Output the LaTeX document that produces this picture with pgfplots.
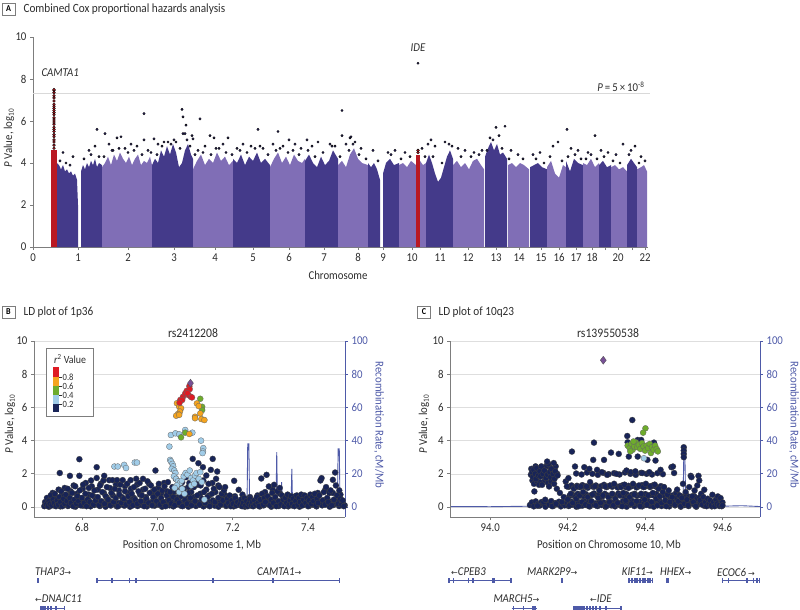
\documentclass[border=0pt]{standalone}
\usepackage{fontspec}
\setmainfont{Carlito}[FakeStretch=0.9]
\newfontfamily\symfont{DejaVu Sans}
\usepackage{pgfplots}
\pgfplotsset{compat=1.18}
\definecolor{mdark}{RGB}{68,58,138}
\definecolor{mlight}{RGB}{128,110,182}
\definecolor{mred}{RGB}{185,25,35}
\definecolor{mdot}{RGB}{48,42,105}
\definecolor{axgray}{RGB}{125,125,125}
\definecolor{gridgray}{RGB}{222,222,222}
\definecolor{recblue}{RGB}{78,90,168}
\definecolor{ldnavy}{RGB}{24,36,88}
\definecolor{ldlblue}{RGB}{160,204,232}
\definecolor{ldgreen}{RGB}{110,172,44}
\definecolor{ldorange}{RGB}{245,164,30}
\definecolor{ldred}{RGB}{222,28,36}
\definecolor{ldpurple}{RGB}{120,80,150}
\definecolor{txt}{RGB}{45,45,45}
\newcommand\fs[1]{\fontsize{#1}{#1}\selectfont}
\pgfplotsset{
  base/.style={scale only axis, tick align=outside, major tick length=3pt,
    axis line style={axgray, line width=0.8pt}, tick style={axgray, line width=0.8pt},
    ticklabel style={font=\fs{12}, text=txt},
    /pgf/number format/assume math mode=true},
  band/.style={draw=none, forget plot},
  nv/.style={only marks, mark=*, mark size=3pt, mark options={fill=ldnavy, draw=black!75, line width=0.3pt}},
  lb/.style={only marks, mark=*, mark size=3pt, mark options={fill=ldlblue, draw=black!60, line width=0.3pt}},
  gr/.style={only marks, mark=*, mark size=3pt, mark options={fill=ldgreen, draw=black!60, line width=0.3pt}},
  og/.style={only marks, mark=*, mark size=3pt, mark options={fill=ldorange, draw=black!60, line width=0.3pt}},
  rd/.style={only marks, mark=*, mark size=3pt, mark options={fill=ldred, draw=black!60, line width=0.3pt}},
  pp/.style={only marks, mark=diamond*, mark size=4pt, mark options={fill=ldpurple, draw=black!70, line width=0.3pt}},
}
\newcommand\exon[2]{\fill[recblue] (#1pt-0.8pt,-#2pt-2.5pt) rectangle (#1pt+0.8pt,-#2pt+2.5pt);}
\begin{document}
\begin{tikzpicture}
\useasboundingbox (0,0) rectangle (800pt,-610pt);
% ================= Panel A =================
\begin{axis}[base, at={(33pt,-247pt)}, anchor=south west, width=615pt, height=210pt,
  xmin=0, xmax=615, ymin=0, ymax=10,
  axis x line*=bottom, axis y line*=left,
  xtick={0,45,95,141,182,220,256,291,325,350,379,407,435,463,486,508,526,543,559,572,585,599,612},
  xticklabels={0,1,2,3,4,5,6,7,8,9,10,11,12,13,14,15,16,17,18,,20,,22},
  ytick={0,2,...,10}, clip=false]
\addplot[gray!30, line width=1.3pt, forget plot] coordinates {(0,7.3)(617,7.3)};
% chromosome bands
\addplot[band, fill=mdark] coordinates {(24,4.0)(26,3.9)(28,3.7)(30,3.9)(32,3.6)(34,3.7)(36,3.5)(38,3.6)(40,3.4)(42,3.5)(44,3.2)(45,2.0)} \closedcycle;
\addplot[band, fill=mdark] coordinates {(48,3.6)(50,3.9)(52,3.7)(54,4.0)(56,3.8)(58,4.1)(60,3.9)(62,4.2)(64,3.8)(66,4.0)(69,3.9)} \closedcycle;
\addplot[band, fill=mlight] coordinates {(69,3.8)(72,4.0)(75,4.3)(78,3.9)(81,4.4)(84,4.1)(87,4.5)(90,4.2)(93,4.0)(96,4.3)(99,3.9)(102,4.2)(105,4.4)(108,3.9)(111,4.1)(114,4.0)(117,4.3)(119,3.9)} \closedcycle;
\addplot[band, fill=mdark] coordinates {(119,3.9)(122,4.2)(125,4.0)(128,4.6)(131,4.3)(134,4.8)(137,4.4)(140,4.9)(143,4.5)(146,3.8)(149,4.0)(152,4.6)(155,4.9)(158,4.4)(160,4.2)} \closedcycle;
\addplot[band, fill=mlight] coordinates {(160,3.7)(164,4.1)(168,4.4)(172,3.9)(176,4.2)(180,4.0)(184,4.5)(188,4.1)(192,4.3)(196,3.9)(200,4.1)} \closedcycle;
\addplot[band, fill=mdark] coordinates {(200,4.2)(204,4.0)(208,4.4)(212,3.9)(216,4.3)(220,4.1)(224,4.5)(228,4.0)(232,4.2)(237,3.9)} \closedcycle;
\addplot[band, fill=mlight] coordinates {(237,3.8)(241,4.2)(245,4.5)(249,4.0)(253,4.3)(257,3.9)(261,4.4)(265,4.1)(269,4.0)(272,4.2)} \closedcycle;
\addplot[band, fill=mdark] coordinates {(272,4.1)(276,4.4)(280,4.0)(284,3.8)(288,4.3)(292,3.9)(296,4.1)(300,4.6)(305,4.2)} \closedcycle;
\addplot[band, fill=mlight] coordinates {(305,3.9)(309,4.1)(313,3.8)(317,4.4)(321,4.7)(325,4.2)(329,4.0)(335,3.9)} \closedcycle;
\addplot[band, fill=mdark] coordinates {(335,4.0)(338,3.8)(341,4.0)(344,3.7)(347,3.2)} \closedcycle;
\addplot[band, fill=mdark] coordinates {(350,3.5)(353,4.0)(357,4.2)(361,3.9)(366,4.0)} \closedcycle;
\addplot[band, fill=mlight] coordinates {(366,3.9)(370,4.0)(374,3.8)(378,4.1)(383,3.9)} \closedcycle;
\addplot[band, fill=mlight] coordinates {(387,4.1)(390,3.9)(393,4.0)} \closedcycle;
\addplot[band, fill=mdark] coordinates {(393,4.0)(396,4.4)(399,4.0)(402,3.5)(405,3.1)(408,3.3)(411,3.8)(414,4.3)(417,4.6)(420,4.2)} \closedcycle;
\addplot[band, fill=mlight] coordinates {(420,3.9)(424,4.1)(428,3.8)(432,4.0)(436,3.7)(440,4.1)(444,4.2)(448,3.9)(451,3.7)} \closedcycle;
\addplot[band, fill=mdark] coordinates {(452,4.3)(455,4.7)(458,5.0)(461,4.6)(464,4.9)(467,4.4)(470,4.5)(474,4.2)} \closedcycle;
\addplot[band, fill=mlight] coordinates {(475,3.9)(479,4.0)(483,3.8)(487,4.0)(491,3.9)(496,3.7)} \closedcycle;
\addplot[band, fill=mdark] coordinates {(497,3.8)(501,3.9)(505,4.0)(509,3.8)(514,3.7)} \closedcycle;
\addplot[band, fill=mlight] coordinates {(514,3.8)(518,4.1)(522,3.5)(526,3.3)(530,3.9)(533,3.8)} \closedcycle;
\addplot[band, fill=mdark] coordinates {(533,4.1)(537,3.6)(541,4.2)(545,4.0)(550,3.9)} \closedcycle;
\addplot[band, fill=mlight] coordinates {(550,4.0)(554,3.9)(558,4.2)(562,3.8)(566,4.0)} \closedcycle;
\addplot[band, fill=mdark] coordinates {(566,3.9)(570,4.1)(574,3.8)(578,3.9)} \closedcycle;
\addplot[band, fill=mlight] coordinates {(578,3.8)(582,3.9)(586,3.7)(590,3.8)(594,3.6)} \closedcycle;
\addplot[band, fill=mdark] coordinates {(594,3.9)(598,4.2)(601,4.0)(604,3.8)} \closedcycle;
\addplot[band, fill=mlight] coordinates {(604,3.7)(608,3.8)(611,3.9)(614,3.6)} \closedcycle;
% hit regions
\addplot[band, fill=mred] coordinates {(18,4.6)(24,4.6)} \closedcycle;
\addplot[band, fill=mred] coordinates {(383,4.4)(387,4.4)} \closedcycle;
% scattered top SNPs
\addplot[only marks, mark=*, mark size=1.2pt, mark options={fill=mdot, draw=none}] coordinates {
(64,5.6)(72,5.4)(84,5.2)(88,5.25)(111,6.35)(111,5.1)(121,5.15)(149,6.55)(150,6.2)(153,5.8)(150,5.4)(152,5.4)(159,5.3)(160,5.15)(167,6.1)(177,5.3)(181,5.2)(195,5.2)(225,5.6)(245,5.5)(256,5.1)(274,5.1)(309,6.5)(309,5.3)(317,5.2)(318,5.25)(463,5.7)(472,5.75)(534,5.6)(562,5.3)
(30,4.5)(40,4.3)(56,4.6)(62,4.8)(76,4.9)(80,4.6)(92,4.7)(98,4.9)(104,4.8)(115,4.6)(125,4.9)(131,5.0)(138,4.9)(143,5.0)(147,4.7)(157,4.8)(165,4.6)(172,4.8)(186,4.7)(190,4.9)(204,4.7)(210,4.9)(218,4.8)(230,4.7)(240,4.9)(250,4.8)(262,4.9)(268,4.7)(279,4.8)(285,5.0)(297,4.9)(302,4.8)(313,4.9)(322,5.0)(328,4.7)(340,4.6)(355,4.5)(362,4.6)(372,4.5)(389,4.7)(395,4.9)(398,5.1)(402,4.8)(412,5.0)(416,4.9)(425,4.7)(432,4.6)(441,4.5)(449,4.6)(457,5.2)(466,5.3)(478,4.6)(485,4.4)(500,4.4)(507,4.5)(520,4.8)(525,5.0)(538,4.7)(545,4.6)(555,4.5)(568,4.6)(575,4.5)(583,4.4)(590,4.9)(598,4.6)(602,4.8)(608,4.3)
(27,4.1)(33,4.0)(37,3.9)(51,4.2)(58,4.4)(66,4.3)(71,4.3)(79,4.6)(86,4.7)(95,4.5)(101,4.6)(109,4.4)(118,4.5)(124,4.4)(129,4.8)(135,5.0)(141,5.1)(154,5.1)(162,4.4)(170,4.5)(178,4.4)(183,4.7)(193,4.5)(199,4.4)(207,4.6)(214,4.5)(222,4.7)(227,4.8)(235,4.4)(243,4.6)(247,4.7)(255,4.5)(260,4.6)(266,4.4)(275,4.6)(282,4.3)(290,4.5)(299,4.8)(307,4.3)(316,4.6)(320,4.9)(326,4.4)(333,4.2)(345,4.1)(358,4.4)(368,4.2)(377,4.3)(392,4.3)(400,4.3)(409,4.0)(419,4.8)(428,4.3)(438,4.3)(446,4.4)(454,4.6)(460,5.1)(469,4.7)(476,4.2)(490,4.2)(503,4.2)(511,4.0)(517,4.3)(529,4.1)(535,4.3)(542,4.4)(548,4.2)(553,4.2)(558,4.4)(564,4.2)(571,4.3)(580,4.1)(587,4.0)(596,4.4)(606,4.0)(612,4.1)
(385,8.75)};
\addplot[only marks, mark=*, mark size=1.4pt, mark options={fill=mred, draw=none}] coordinates {
(21,4.7)(21,4.85)(21,5.0)(21,5.1)(21,5.25)(21,5.35)(21,5.5)(21,5.6)(21,5.7)(21,5.85)(21,5.95)(21,6.05)(21,6.15)(21,6.3)(21,6.4)(21,6.5)(21,6.6)(21,6.7)(21,6.8)(21,6.95)(21,7.1)(21,7.2)(21,7.35)(21,7.45)(21,7.5)(385,4.5)(385,4.6)};
\end{axis}
\node[draw=axgray, line width=0.6pt, minimum width=13pt, minimum height=12pt, inner sep=0pt, font=\fs{9}\bfseries] at (8.5pt,-9pt) {A};
\node[anchor=west, font=\fs{12.5}, text=txt] at (20pt,-9pt) {Combined Cox proportional hazards analysis};
\node[rotate=90, font=\fs{12}, text=txt] at (9pt,-138pt) {\textit{P} Value, log\textsubscript{10}};
\node[font=\fs{12}, text=txt] at (338pt,-275pt) {Chromosome};
\node[anchor=west, font=\fs{12}\itshape, text=txt] at (38pt,-73pt) {CAMTA1};
\node[font=\fs{12}\itshape, text=txt] at (418pt,-48pt) {IDE};
\node[anchor=east, font=\fs{12}, text=txt] at (648pt,-87pt) {\textit{P}\,=\,5\,×\,10\textsuperscript{-8}};
% ================= Panel B =================
\begin{axis}[base, at={(34pt,-517pt)}, anchor=south west, width=311pt, height=176pt,
  xmin=6.6726, xmax=7.4982, ymin=-6, ymax=100,
  axis x line=none, axis y line*=right,
  axis line style={recblue, line width=0.8pt}, tick style={recblue, line width=0.8pt},
  ticklabel style={font=\fs{12}, text=recblue},
  ytick={0,20,...,100}, ymajorgrids, grid style={gridgray, line width=0.6pt}]
\addplot[recblue, line width=0.9pt] coordinates {(6.70,0.5)(6.75,0.8)(6.80,0.4)(6.85,1.0)(6.90,0.6)(6.95,0.8)(7.00,0.5)(7.05,1.2)(7.10,0.8)(7.15,0.6)(7.20,0.9)(7.238,0.8)(7.240,38)(7.243,38)(7.245,1.0)(7.30,1.5)(7.315,1.2)(7.317,33)(7.319,1.2)(7.328,1.0)(7.330,15)(7.332,1.0)(7.355,1.2)(7.357,23)(7.359,1.2)(7.40,2)(7.45,3)(7.478,2)(7.480,35)(7.483,35)(7.485,2)(7.495,1)};
\end{axis}
\begin{axis}[base, at={(34pt,-517pt)}, anchor=south west, width=311pt, height=176pt,
  xmin=6.6726, xmax=7.4982, ymin=-0.6, ymax=10,
  axis x line*=bottom, axis y line*=left,
  xtick={6.8,7.0,7.2,7.4}, xticklabels={6.8,7.0,7.2,7.4}, ytick={0,2,...,10}]
\addplot[nv] coordinates {
(6.7025,0.12)(6.7075,0.28)(6.7125,0.02)(6.7175,0.38)(6.7225,0.18)(6.7275,0.08)(6.7325,0.32)(6.7375,0.22)(6.7425,0.04)(6.7475,0.30)(6.7525,0.14)(6.7575,0.40)(6.7625,0.06)(6.7675,0.26)(6.7725,0.16)(6.7775,0.36)(6.7825,0.02)(6.7875,0.24)(6.7925,0.12)(6.7975,0.34)(6.8025,0.08)(6.8075,0.30)(6.8125,0.18)(6.8175,0.40)(6.8225,0.04)(6.8275,0.22)(6.8325,0.12)(6.8375,0.36)(6.8425,0.26)(6.8475,0.06)(6.8525,0.32)(6.8575,0.16)(6.8625,0.02)(6.8675,0.28)(6.8725,0.38)(6.8775,0.10)(6.8825,0.20)(6.8875,0.34)(6.8925,0.04)(6.8975,0.24)(6.9025,0.14)(6.9075,0.36)(6.9125,0.08)(6.9175,0.30)(6.9225,0.20)(6.9275,0.02)(6.9325,0.40)(6.9375,0.16)(6.9425,0.26)(6.9475,0.06)(6.9525,0.32)(6.9575,0.12)(6.9625,0.22)(6.9675,0.38)(6.9725,0.04)(6.9775,0.28)(6.9825,0.18)(6.9875,0.34)(6.9925,0.08)(6.9975,0.24)
(7.0025,0.14)(7.0075,0.36)(7.0125,0.02)(7.0175,0.28)(7.0225,0.20)(7.0275,0.40)(7.0325,0.10)(7.0375,0.30)(7.0425,0.04)(7.0475,0.22)(7.0525,0.16)(7.0575,0.34)(7.0625,0.08)(7.0675,0.26)(7.0725,0.12)(7.0775,0.38)(7.0825,0.02)(7.0875,0.24)(7.0925,0.18)(7.0975,0.32)(7.1025,0.06)(7.1075,0.28)(7.1125,0.14)(7.1175,0.36)(7.1225,0.04)(7.1275,0.22)(7.1325,0.12)(7.1375,0.30)(7.1425,0.18)(7.1475,0.40)(7.1525,0.08)(7.1575,0.26)(7.1625,0.02)(7.1675,0.34)(7.1725,0.16)(7.1775,0.24)(7.1825,0.06)(7.1875,0.30)(7.1925,0.12)(7.1975,0.20)
(7.2025,0.04)(7.2075,0.26)(7.2125,0.14)(7.2175,0.32)(7.2225,0.08)(7.2275,0.20)(7.2325,0.02)(7.2375,0.28)(7.2425,0.12)(7.2475,0.34)(7.2525,0.06)(7.2575,0.22)(7.2625,0.16)(7.2675,0.36)(7.2725,0.04)(7.2775,0.30)(7.2825,0.10)(7.2875,0.40)(7.2925,0.18)(7.2975,0.26)(7.3025,0.02)(7.3075,0.34)(7.3125,0.14)(7.3175,0.22)(7.3225,0.06)(7.3275,0.30)(7.3325,0.12)(7.3375,0.38)(7.3425,0.20)(7.3475,0.04)(7.3525,0.28)(7.3575,0.10)(7.3625,0.34)(7.3675,0.16)(7.3725,0.24)(7.3775,0.02)(7.3825,0.32)(7.3875,0.12)(7.3925,0.40)(7.3975,0.18)
(7.4025,0.06)(7.4075,0.28)(7.4125,0.14)(7.4175,0.36)(7.4225,0.04)(7.4275,0.22)(7.4325,0.30)(7.4375,0.10)(7.4425,0.40)(7.4475,0.16)(7.4525,0.26)(7.4575,0.02)(7.4625,0.34)(7.4675,0.12)(7.4725,0.24)(7.4775,0.38)(7.4825,0.06)(7.4875,0.30)(7.4925,0.18)(7.4975,0.10)
(6.722,0.85)(6.730,0.60)(6.738,1.05)(6.746,0.70)(6.754,1.15)(6.762,0.65)(6.770,0.95)(6.778,1.30)(6.786,0.80)(6.794,0.55)(6.802,1.10)(6.810,1.45)(6.818,0.75)(6.826,1.25)(6.834,0.60)(6.842,1.05)(6.850,1.40)(6.858,0.85)(6.866,0.55)(6.874,1.15)(6.882,0.70)(6.890,1.35)(6.898,1.00)(6.906,0.60)(6.914,1.25)(6.922,0.85)(6.930,1.10)(6.938,0.55)(6.946,1.35)(6.954,0.75)(6.962,1.05)(6.970,0.60)(6.978,1.40)(6.986,0.90)(6.994,0.65)(7.002,1.15)(7.010,0.80)(7.018,1.45)(7.026,0.95)(7.034,0.60)(7.042,0.85)(7.050,0.55)(7.058,0.70)(7.066,1.50)(7.074,0.65)(7.082,1.20)(7.090,0.90)(7.098,0.60)(7.106,1.35)(7.114,0.80)(7.122,1.60)(7.130,1.05)(7.138,0.70)(7.146,1.45)(7.154,0.90)(7.162,1.30)(7.170,0.60)(7.178,0.75)(7.186,0.55)(7.194,0.65)
(7.206,0.65)(7.226,0.75)(7.246,0.60)(7.266,0.70)(7.286,0.90)(7.306,1.05)(7.326,0.80)(7.346,0.55)(7.366,0.65)(7.386,0.60)(7.406,0.55)(7.426,0.85)(7.446,1.05)(7.466,0.85)(7.486,0.75)
(6.700,0.05)(6.702,0.30)(6.705,0.15)(6.707,0.55)(6.710,0.05)(6.712,0.35)(6.715,0.20)(6.717,0.70)(6.720,0.10)(6.723,0.45)(6.726,0.25)(6.728,0.80)(6.731,0.05)(6.734,0.40)(6.737,0.15)(6.740,0.60)(6.743,0.30)(6.745,0.95)(6.748,0.05)(6.751,0.50)(6.754,0.20)(6.757,0.75)(6.760,0.35)(6.762,1.10)(6.765,0.10)(6.768,0.55)(6.771,0.25)(6.774,0.85)(6.777,0.05)(6.780,0.45)(6.782,1.25)(6.785,0.20)(6.788,0.65)(6.791,0.35)(6.794,1.00)(6.797,0.10)(6.800,0.55)(6.803,1.35)(6.806,0.25)(6.809,0.80)(6.812,0.05)(6.815,0.45)(6.818,1.15)(6.821,0.30)(6.824,1.60)(6.827,0.70)(6.830,0.15)(6.833,1.00)(6.836,0.40)(6.839,1.75)(6.842,0.60)(6.845,0.10)(6.848,1.30)(6.851,0.35)(6.854,0.90)(6.857,1.60)(6.860,0.20)(6.863,0.65)(6.866,1.20)(6.869,0.45)(6.872,1.62)(6.875,0.10)(6.878,0.85)(6.881,1.62)(6.884,0.30)(6.887,1.10)(6.890,0.55)(6.893,1.62)(6.896,0.05)(6.899,0.75)(6.902,1.35)(6.905,0.25)(6.908,1.62)(6.911,0.50)(6.914,0.95)(6.917,0.15)(6.920,1.40)(6.923,0.65)(6.926,0.30)(6.929,1.62)(6.932,0.80)(6.935,0.10)(6.938,1.20)(6.941,0.45)(6.944,1.70)(6.947,0.20)(6.950,0.95)(6.953,1.45)(6.956,0.35)(6.959,0.70)(6.962,1.70)(6.965,0.05)(6.968,1.10)(6.971,0.50)(6.974,1.55)(6.977,0.25)(6.980,0.85)(6.983,1.30)(6.986,0.10)(6.989,0.60)(6.992,1.05)(6.995,2.20)(6.998,0.35)
(7.001,0.80)(7.004,1.40)(7.007,0.15)(7.010,0.55)(7.013,1.00)(7.016,0.30)(7.019,1.25)(7.022,0.05)(7.025,0.70)(7.028,1.50)(7.031,0.40)(7.034,0.90)(7.037,0.20)(7.040,1.20)(7.043,0.60)(7.046,0.10)(7.049,1.70)(7.052,0.45)(7.055,0.95)(7.058,0.25)(7.061,1.35)(7.064,0.65)(7.067,0.05)(7.070,1.10)(7.073,0.40)(7.076,1.80)(7.079,0.20)(7.082,0.85)(7.085,1.45)(7.088,0.55)(7.091,0.10)(7.094,2.90)(7.097,1.20)(7.100,0.35)(7.103,1.65)(7.106,0.70)(7.109,2.64)(7.112,0.15)(7.115,1.30)(7.118,0.50)(7.121,2.40)(7.124,0.90)(7.127,0.25)(7.130,1.90)(7.133,0.60)(7.136,1.40)(7.139,0.05)(7.142,2.24)(7.145,0.80)(7.147,2.90)(7.150,1.10)(7.153,0.30)(7.156,1.70)(7.159,2.14)(7.162,0.55)(7.165,1.20)(7.168,0.15)(7.171,0.80)(7.174,0.40)(7.177,1.00)(7.180,1.20)(7.183,0.10)(7.186,0.50)(7.189,0.25)(7.192,0.70)(7.195,0.05)(7.198,0.40)
(7.201,0.20)(7.204,1.58)(7.207,0.55)(7.210,0.10)(7.213,0.30)(7.216,1.04)(7.219,0.15)(7.222,0.45)(7.225,0.05)(7.228,0.25)(7.231,0.55)(7.234,0.10)(7.237,0.35)(7.240,0.05)(7.243,0.20)(7.246,0.50)(7.249,0.10)(7.252,0.30)(7.255,0.05)(7.258,0.40)(7.261,0.15)(7.264,0.60)(7.267,0.25)(7.270,0.05)(7.273,0.45)(7.276,1.72)(7.278,0.80)(7.281,0.15)(7.284,0.55)(7.287,0.30)(7.290,1.94)(7.293,0.65)(7.296,1.24)(7.299,0.10)(7.302,0.45)(7.305,0.85)(7.308,0.25)(7.310,1.34)(7.313,0.60)(7.316,0.05)(7.319,0.95)(7.322,0.35)(7.325,1.15)(7.328,0.15)(7.331,0.70)(7.334,0.45)(7.337,0.05)(7.340,0.55)(7.343,0.25)(7.346,0.75)(7.349,0.10)(7.352,0.40)(7.355,0.65)(7.358,0.20)(7.361,0.50)(7.364,0.05)(7.367,0.35)(7.370,0.70)(7.373,0.15)(7.376,0.55)(7.379,0.30)(7.382,0.75)(7.385,0.10)(7.388,0.45)(7.391,0.70)(7.394,0.25)(7.397,0.55)
(7.400,0.05)(7.403,0.40)(7.406,0.75)(7.409,0.20)(7.412,0.60)(7.415,0.35)(7.418,0.80)(7.421,0.10)(7.424,0.50)(7.427,0.25)(7.430,0.70)(7.433,1.60)(7.436,1.74)(7.439,0.40)(7.442,0.90)(7.445,0.15)(7.448,1.20)(7.451,0.55)(7.454,0.30)(7.457,0.85)(7.460,1.00)(7.463,0.10)(7.466,1.64)(7.469,0.45)(7.472,2.08)(7.474,1.30)(7.477,0.70)(7.480,0.20)(7.483,1.00)(7.486,0.50)(7.489,0.15)(7.492,0.40)(7.495,0.05)
(6.741,2.05)(6.768,1.88)(6.793,2.88)(6.793,1.88)(6.839,2.40)(6.859,1.88)};
\addplot[lb] coordinates {(7.032,3.64)(7.034,2.84)(7.036,4.34)(7.048,4.44)(7.058,4.38)(7.074,4.64)(7.093,4.48)(7.116,4.00)(7.122,3.55)(7.121,3.35)(7.120,3.25)(6.886,2.44)(6.895,2.44)(6.912,2.54)(6.917,2.35)(6.940,2.68)(6.946,2.68)(7.036,2.75)(7.040,2.60)(7.042,2.45)(7.038,2.30)(7.045,2.20)(7.048,2.05)(7.044,1.85)(7.050,1.70)(7.055,1.55)(7.060,1.45)(7.052,1.30)(7.046,1.15)(7.065,1.60)(7.070,1.85)(7.075,2.05)(7.080,1.95)(7.086,2.20)(7.090,1.75)(7.095,1.60)(7.100,1.90)(7.104,2.05)(7.110,1.70)(7.114,2.10)(7.118,1.50)(7.058,0.90)(7.066,1.10)(7.072,0.80)(7.125,0.45)(7.090,1.30)(7.098,1.40)};
\addplot[gr] coordinates {(7.114,6.52)(7.119,6.04)(7.119,5.84)(7.063,4.20)(7.074,4.48)};
\addplot[og] coordinates {(7.052,6.25)(7.058,6.05)(7.063,5.95)(7.060,5.75)(7.055,5.60)(7.050,5.50)(7.058,5.55)(7.105,6.24)(7.110,6.08)(7.100,5.44)(7.114,5.64)(7.117,5.30)(7.125,5.24)(7.100,5.35)(7.085,4.40)};
\addplot[rd] coordinates {(7.061,6.45)(7.068,6.64)(7.074,6.84)(7.078,7.00)(7.083,6.74)(7.089,6.64)(7.085,7.28)(7.086,7.10)(7.066,6.45)(7.059,6.28)(7.080,6.86)(7.092,6.60)};
\addplot[pp] coordinates {(7.088,7.46)};
\end{axis}
\node[draw=axgray, line width=0.6pt, minimum width=13pt, minimum height=12pt, inner sep=0pt, font=\fs{9}\bfseries] at (8.5pt,-312pt) {B};
\node[anchor=west, font=\fs{12.5}, text=txt] at (20pt,-312pt) {LD plot of 1p36};
\node[font=\fs{13}, text=txt] at (193pt,-333pt) {rs2412208};
\node[rotate=90, font=\fs{12}, text=txt] at (10pt,-424pt) {\textit{P} Value, log\textsubscript{10}};
\node[rotate=-90, font=\fs{12}, text=recblue] at (379pt,-425pt) {Recombination Rate, cM/Mb};
\node[font=\fs{12}, text=txt] at (192pt,-545pt) {Position on Chromosome 1, Mb};
% legend
\draw[axgray, line width=0.6pt, fill=white] (46pt,-348pt) rectangle (93pt,-416pt);
\node[font=\fs{11}, text=txt] at (70pt,-359pt) {\textit{r}\textsuperscript{2} Value};
\fill[ldred] (53pt,-367pt) rectangle (59pt,-377pt);
\fill[ldorange] (53pt,-377pt) rectangle (59pt,-386pt);
\fill[ldgreen] (53pt,-386pt) rectangle (59pt,-395pt);
\fill[ldlblue] (53pt,-395pt) rectangle (59pt,-404pt);
\fill[ldnavy] (53pt,-404pt) rectangle (59pt,-412pt);
\foreach \yy/\lab in {377/0.8,386/0.6,395/0.4,404/0.2} {
  \draw[txt, line width=0.5pt] (59pt,-\yy pt) -- (62pt,-\yy pt);
  \node[anchor=west, inner sep=0pt, font=\fs{9.5}, text=txt] at (62.5pt,-\yy pt) {\lab};
}
% genes B
\node[anchor=west, font=\fs{12}\itshape, text=txt, inner sep=0pt] at (35pt,-572pt) {THAP3{\upshape\symfont\fs{8}→}};
\exon{38}{580}
\node[anchor=west, font=\fs{12}\itshape, text=txt, inner sep=0pt] at (257pt,-572pt) {CAMTA1{\upshape\symfont\fs{8}→}};
\draw[recblue, line width=0.7pt] (96.7pt,-580pt) -- (340pt,-580pt);
\exon{97}{580}\exon{111.7}{580}\exon{129.3}{580}\exon{136}{580}\exon{212.7}{580}\exon{272.7}{580}\exon{339.5}{580}
\node[anchor=west, font=\fs{12}\itshape, text=txt, inner sep=0pt] at (35pt,-599pt) {{\upshape\symfont\fs{8}←}DNAJC11};
\draw[recblue, line width=0.7pt] (40pt,-608pt) -- (65pt,-608pt);
\exon{41}{608}\exon{43}{608}\exon{45}{608}\exon{48}{608}\exon{51}{608}\exon{56}{608}\exon{64.5}{608}
% ================= Panel C =================
\begin{axis}[base, at={(450pt,-517pt)}, anchor=south west, width=310pt, height=176pt,
  xmin=93.896, xmax=94.697, ymin=-6, ymax=100,
  axis x line=none, axis y line*=right,
  axis line style={recblue, line width=0.8pt}, tick style={recblue, line width=0.8pt},
  ticklabel style={font=\fs{12}, text=recblue},
  ytick={0,20,...,100}, ymajorgrids, grid style={gridgray, line width=0.6pt}]
\addplot[recblue, line width=0.9pt] coordinates {(93.896,0.3)(94.0,0.2)(94.1,0.5)(94.2,0.8)(94.3,1.0)(94.4,1.2)(94.498,1)(94.500,30)(94.503,30)(94.505,1)(94.55,0.8)(94.60,0.5)(94.65,0.8)(94.697,0.3)};
\end{axis}
\begin{axis}[base, at={(450pt,-517pt)}, anchor=south west, width=310pt, height=176pt,
  xmin=93.896, xmax=94.697, ymin=-0.6, ymax=10,
  axis x line*=bottom, axis y line*=left,
  xtick={94.0,94.2,94.4,94.6}, xticklabels={94.0,94.2,94.4,94.6}, ytick={0,2,...,10}]
\addplot[nv] coordinates {
(94.1025,0.12)(94.1075,0.28)(94.1125,0.04)(94.1175,0.34)(94.1225,0.18)(94.1275,0.08)(94.1325,0.30)(94.1375,0.22)(94.1425,0.02)(94.1475,0.26)(94.1525,0.14)(94.1575,0.36)(94.1625,0.06)(94.1675,0.24)(94.1725,0.16)(94.1775,0.32)(94.1825,0.04)(94.1875,0.20)(94.1925,0.10)(94.1975,0.28)
(94.2025,0.06)(94.2075,0.34)(94.2125,0.14)(94.2175,0.24)(94.2225,0.02)(94.2275,0.30)(94.2325,0.18)(94.2375,0.08)(94.2425,0.36)(94.2475,0.12)(94.2525,0.26)(94.2575,0.04)(94.2625,0.32)(94.2675,0.16)(94.2725,0.22)(94.2775,0.06)(94.2825,0.34)(94.2875,0.12)(94.2925,0.28)(94.2975,0.02)
(94.3025,0.20)(94.3075,0.36)(94.3125,0.10)(94.3175,0.26)(94.3225,0.04)(94.3275,0.30)(94.3325,0.16)(94.3375,0.08)(94.3425,0.34)(94.3475,0.22)(94.3525,0.02)(94.3575,0.28)(94.3625,0.14)(94.3675,0.36)(94.3725,0.06)(94.3775,0.24)(94.3825,0.18)(94.3875,0.32)(94.3925,0.04)(94.3975,0.26)
(94.4025,0.12)(94.4075,0.34)(94.4125,0.08)(94.4175,0.22)(94.4225,0.02)(94.4275,0.30)(94.4325,0.16)(94.4375,0.36)(94.4425,0.06)(94.4475,0.24)(94.4525,0.14)(94.4575,0.32)(94.4625,0.04)(94.4675,0.20)(94.4725,0.28)(94.4775,0.10)(94.4825,0.34)(94.4875,0.18)(94.4925,0.02)(94.4975,0.26)
(94.5025,0.12)(94.5075,0.30)(94.5125,0.06)(94.5175,0.22)(94.5225,0.34)(94.5275,0.14)(94.5325,0.02)(94.5375,0.26)(94.5425,0.18)(94.5475,0.32)(94.5525,0.08)(94.5575,0.24)(94.5625,0.12)(94.5675,0.30)(94.5725,0.04)(94.5775,0.20)(94.5825,0.16)(94.5875,0.28)(94.5925,0.06)(94.5975,0.18)
(94.205,0.68)(94.212,0.75)(94.219,0.62)(94.226,0.80)(94.233,0.70)(94.240,0.66)(94.247,0.78)(94.254,0.64)(94.261,0.72)(94.268,0.82)(94.275,0.68)(94.282,0.74)(94.289,0.62)(94.296,0.80)(94.303,0.70)(94.310,0.66)(94.317,0.76)(94.324,0.64)(94.331,0.82)(94.338,0.70)(94.345,0.66)(94.352,0.78)(94.359,0.62)(94.366,0.74)(94.373,0.80)(94.380,0.68)(94.387,0.72)(94.394,0.64)(94.401,0.78)(94.408,0.66)(94.415,0.74)(94.422,0.70)(94.429,0.80)(94.436,0.62)(94.443,0.72)(94.450,0.68)(94.457,0.76)(94.464,0.64)(94.471,0.70)(94.478,0.60)(94.485,0.74)(94.492,0.66)(94.499,0.58)(94.506,0.70)(94.513,0.62)(94.520,0.56)(94.527,0.66)(94.534,0.50)(94.541,0.58)(94.548,0.46)
(94.203,1.22)(94.210,1.30)(94.217,1.18)(94.224,1.28)(94.231,1.20)(94.238,1.32)(94.245,1.24)(94.252,1.16)(94.259,1.28)(94.266,1.22)(94.273,1.30)(94.280,1.18)(94.287,1.26)(94.294,1.34)(94.301,1.20)(94.308,1.28)(94.315,1.22)(94.322,1.30)(94.329,1.18)(94.336,1.26)(94.343,1.32)(94.350,1.20)(94.357,1.28)(94.364,1.24)(94.371,1.30)(94.378,1.18)(94.385,1.26)(94.392,1.32)(94.399,1.22)(94.406,1.28)(94.413,1.20)(94.420,1.30)(94.427,1.24)(94.434,1.16)(94.441,1.26)(94.448,1.20)
(94.222,2.02)(94.236,1.96)(94.250,2.08)(94.264,2.00)(94.278,1.94)(94.292,2.06)(94.306,1.98)(94.320,2.04)(94.334,1.96)(94.348,2.08)(94.362,2.00)(94.376,1.94)(94.390,2.06)(94.404,2.00)(94.418,1.96)(94.432,2.04)(94.446,1.98)
(94.106,2.30)(94.109,1.60)(94.113,1.40)(94.117,2.45)(94.121,1.55)(94.125,2.20)(94.129,1.50)(94.133,1.90)(94.137,2.35)(94.141,1.60)(94.145,2.05)(94.149,1.45)(94.153,2.40)(94.157,1.55)(94.161,2.25)(94.165,1.40)(94.169,2.45)(94.173,2.00)
(94.105,1.95)(94.108,2.10)(94.110,1.80)(94.112,2.25)(94.114,0.94)(94.116,2.00)(94.118,1.70)(94.120,2.35)(94.122,0.08)(94.124,1.90)(94.126,1.34)(94.128,2.15)(94.130,1.85)(94.132,2.45)(94.134,1.34)(94.136,2.00)(94.138,0.30)(94.140,2.20)(94.142,0.44)(94.144,1.75)(94.146,2.50)(94.148,1.95)(94.150,2.60)(94.152,1.24)(94.154,2.10)(94.156,1.80)(94.158,2.30)(94.160,0.05)(94.162,2.00)(94.164,2.65)(94.166,1.70)(94.168,2.15)(94.170,0.20)(94.172,1.10)(94.174,1.90)(94.147,2.74)
(94.180,0.85)(94.185,0.30)(94.190,0.60)(94.195,1.54)(94.198,1.24)(94.200,0.46)(94.202,1.74)(94.205,0.10)(94.208,0.80)(94.211,3.34)(94.213,0.25)(94.216,1.10)(94.219,2.44)(94.222,0.50)(94.225,1.24)(94.228,0.05)(94.231,0.70)(94.234,1.24)(94.237,0.30)(94.240,0.90)(94.243,2.40)(94.246,0.15)(94.249,1.24)(94.252,0.60)(94.255,0.05)(94.256,2.30)(94.258,1.50)(94.261,0.35)(94.264,0.75)(94.266,2.84)(94.268,3.88)(94.270,1.24)(94.273,0.10)(94.276,2.24)(94.279,0.55)(94.282,1.00)(94.285,0.25)(94.288,2.10)(94.291,0.70)(94.294,2.84)(94.297,1.24)(94.300,0.05)
(94.302,1.94)(94.305,0.60)(94.308,0.30)(94.310,1.30)(94.312,3.28)(94.315,0.80)(94.318,0.10)(94.320,1.40)(94.323,0.50)(94.326,2.00)(94.329,0.25)(94.332,3.20)(94.335,0.70)(94.338,1.20)(94.341,0.05)(94.344,0.85)(94.347,1.35)(94.350,0.40)(94.352,2.20)(94.354,4.28)(94.355,3.90)(94.357,1.15)(94.358,3.04)(94.360,0.60)(94.363,2.10)(94.365,0.20)(94.367,5.24)(94.369,1.40)(94.372,0.75)(94.375,2.15)(94.378,0.35)(94.381,3.04)(94.381,4.04)(94.384,1.30)(94.387,0.05)(94.390,4.04)(94.390,0.80)(94.393,2.05)(94.396,1.20)(94.399,0.45)(94.402,1.40)(94.405,0.15)(94.406,2.84)(94.408,0.70)(94.411,2.10)(94.414,1.25)(94.417,0.30)(94.420,0.85)(94.423,3.88)(94.425,1.35)(94.427,2.80)(94.429,0.50)(94.432,0.10)(94.435,1.10)(94.438,0.65)(94.440,2.24)(94.443,0.25)(94.446,0.90)(94.449,1.20)(94.452,0.40)(94.455,0.05)(94.458,0.75)(94.461,1.00)(94.464,0.30)(94.468,2.40)(94.470,0.60)(94.472,2.44)(94.475,2.05)(94.477,0.15)(94.480,0.85)(94.483,1.05)(94.486,0.35)(94.489,0.70)(94.492,0.05)(94.495,0.55)(94.498,1.40)
(94.500,3.60)(94.500,3.40)(94.500,3.20)(94.500,3.00)(94.502,0.20)(94.505,0.90)(94.508,0.45)(94.511,0.10)(94.514,1.20)(94.518,1.88)(94.520,1.80)(94.522,0.65)(94.525,0.30)(94.528,1.00)(94.531,0.05)(94.535,1.30)(94.538,1.88)(94.540,1.60)(94.542,0.40)(94.545,0.80)(94.548,0.15)(94.551,0.60)(94.553,1.04)(94.556,0.30)(94.559,0.05)(94.562,0.50)(94.565,0.20)(94.568,0.40)(94.571,0.10)(94.574,0.74)(94.577,0.30)(94.580,0.05)(94.583,0.45)(94.586,0.20)(94.588,0.64)(94.591,0.10)(94.595,0.54)(94.598,0.05)(94.600,0.28)(94.600,0.10)};
\addplot[lb] coordinates {(94.397,2.94)};
\addplot[gr] coordinates {(94.401,4.74)(94.395,4.48)(94.355,3.70)(94.360,3.55)(94.365,3.80)(94.368,3.45)(94.372,3.65)(94.376,3.90)(94.380,3.60)(94.384,3.75)(94.388,3.50)(94.392,3.85)(94.396,3.65)(94.400,3.40)(94.404,3.70)(94.408,3.55)(94.412,3.80)(94.415,3.25)(94.418,3.60)(94.422,3.45)(94.426,3.70)(94.430,3.50)(94.433,3.35)(94.362,3.35)(94.370,3.95)};
\addplot[pp] coordinates {(94.292,8.84)};
\end{axis}
\node[draw=axgray, line width=0.6pt, minimum width=13pt, minimum height=12pt, inner sep=0pt, font=\fs{9}\bfseries] at (424pt,-312pt) {C};
\node[anchor=west, font=\fs{12.5}, text=txt] at (435pt,-312pt) {LD plot of 10q23};
\node[font=\fs{13}, text=txt] at (608pt,-333pt) {rs139550538};
\node[rotate=90, font=\fs{12}, text=txt] at (424pt,-424pt) {\textit{P} Value, log\textsubscript{10}};
\node[rotate=-90, font=\fs{12}, text=recblue] at (794pt,-425pt) {Recombination Rate, cM/Mb};
\node[font=\fs{12}, text=txt] at (609pt,-545pt) {Position on Chromosome 10, Mb};
% genes C
\node[anchor=west, font=\fs{12}\itshape, text=txt, inner sep=0pt] at (451pt,-572pt) {{\upshape\symfont\fs{8}←}CPEB3};
\draw[recblue, line width=0.7pt] (448.3pt,-580pt) -- (511.7pt,-580pt);
\exon{449}{580}\exon{453.3}{580}\exon{468.3}{580}\exon{472.7}{580}\exon{492.7}{580}\exon{494}{580}\exon{511}{580}
\node[anchor=west, font=\fs{12}\itshape, text=txt, inner sep=0pt] at (527pt,-572pt) {MARK2P9{\upshape\symfont\fs{8}→}};
\exon{561.7}{580}
\node[anchor=west, font=\fs{12}\itshape, text=txt, inner sep=0pt] at (621.7pt,-572pt) {KIF11{\upshape\symfont\fs{8}→}};
\draw[recblue, line width=0.7pt] (628.3pt,-580pt) -- (653.3pt,-580pt);
\exon{629}{580}\exon{632}{580}\exon{635}{580}\exon{637}{580}\exon{640}{580}\exon{643}{580}\exon{645}{580}\exon{648}{580}\exon{650}{580}\exon{652.5}{580}
\node[anchor=west, font=\fs{12}\itshape, text=txt, inner sep=0pt] at (660pt,-572pt) {HHEX{\upshape\symfont\fs{8}→}};
\exon{667}{580}\exon{668.6}{580}
\node[anchor=west, font=\fs{12}\itshape, text=txt, inner sep=0pt] at (717pt,-572pt) {ECOC6\,{\upshape\symfont\fs{8}→}};
\draw[recblue, line width=0.7pt] (721.7pt,-580pt) -- (760pt,-580pt);
\exon{722.5}{580}\exon{728.3}{580}\exon{746.7}{580}\exon{753.3}{580}\exon{756.7}{580}\exon{759.3}{580}
\node[anchor=west, font=\fs{12}\itshape, text=txt, inner sep=0pt] at (493.3pt,-599pt) {MARCH5{\upshape\symfont\fs{8}→}};
\draw[recblue, line width=0.7pt] (511.7pt,-608pt) -- (536.7pt,-608pt);
\exon{513.3}{608}\exon{523.3}{608}\exon{532.7}{608}\exon{535}{608}
\node[anchor=west, font=\fs{12}\itshape, text=txt, inner sep=0pt] at (590pt,-599pt) {{\upshape\symfont\fs{8}←}IDE};
\draw[recblue, line width=0.7pt] (573.3pt,-608pt) -- (621.7pt,-608pt);
\exon{574}{608}\exon{576}{608}\exon{578}{608}\exon{580}{608}\exon{582}{608}\exon{584}{608}\exon{587}{608}\exon{590}{608}\exon{593}{608}\exon{596}{608}\exon{600}{608}\exon{606}{608}\exon{621}{608}
\end{tikzpicture}
\end{document}
